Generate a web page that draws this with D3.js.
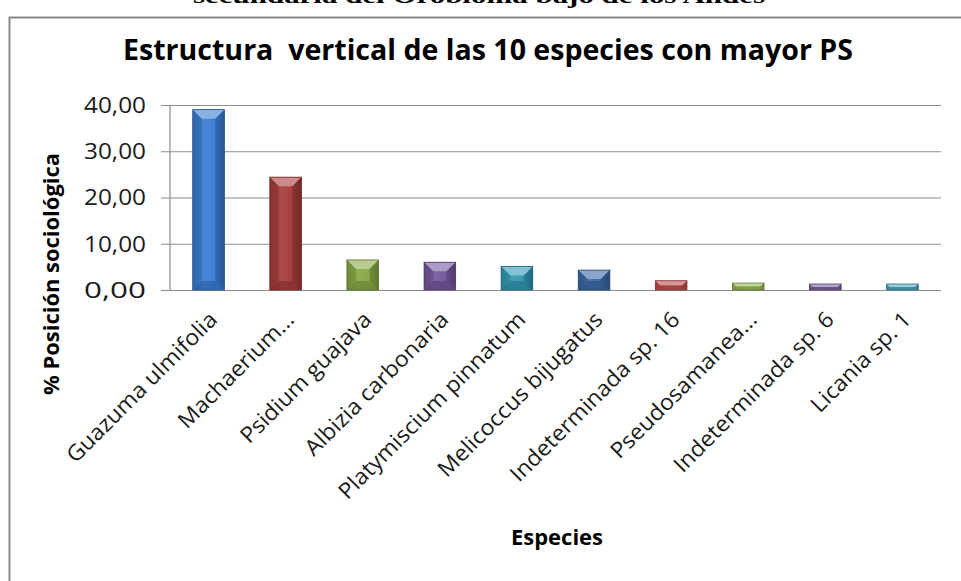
<!DOCTYPE html>
<html><head><meta charset="utf-8">
<script src="https://cdn.jsdelivr.net/npm/d3@7"></script>
<style>body{margin:0;background:#fff}svg{display:block}</style>
</head><body>
<svg id="c" width="961" height="581"></svg>
<script>
const categories = ["Guazuma ulmifolia","Machaerium...","Psidium guajava","Albizia carbonaria","Platymiscium pinnatum","Melicoccus bijugatus","Indeterminada sp. 16","Pseudosamanea...","Indeterminada sp. 6","Licania sp. 1"];
const values = [39.0, 24.4, 6.5, 6.0, 5.1, 4.3, 2.0, 1.5, 1.3, 1.3];
const yTicks = [0, 10, 20, 30, 40];
const tickLabels = ["0,00","10,00","20,00","30,00","40,00"];
const chartTitle = "Estructura\u00a0 vertical de las 10 especies con mayor PS";
const yTitle = "% Posición sociológica";
const xTitle = "Especies";
const pageHeading = "secundaria del Orobioma bajo de los Andes";
const barColors = ["#3b7dd4","#a63d3b","#88aa44","#75599c","#3199b4","#3c6aa6","#c0504d","#9bbb59","#8064a2","#4bacc6"];

const svg = d3.select("#c");
const margin = {left:170, right:941, top:105, bottom:290};
const x = d3.scaleBand().domain(categories).range([margin.left, margin.right]).paddingInner(0.59).paddingOuter(0.295);
const y = d3.scaleLinear().domain([0,40]).range([margin.bottom, margin.top]);

// page heading (cut off at the top, as in the source)
svg.append("text").attr("x",479).attr("y",3).attr("text-anchor","middle")
  .attr("font-family","Liberation Serif").attr("font-weight","bold").attr("font-size",21)
  .attr("textLength",572).attr("lengthAdjust","spacingAndGlyphs").text(pageHeading);

// frame
svg.append("path").attr("d","M9.5,590 V17.5 H970").attr("fill","none").attr("stroke","#8a8a8a").attr("stroke-width",2);

// title
svg.append("text").attr("x",123).attr("y",60).attr("font-family","Open Sans").attr("font-weight","bold")
  .attr("font-size",28).attr("textLength",730).attr("lengthAdjust","spacingAndGlyphs").attr("fill","#000").text(chartTitle);

// gridlines + axis
const yAxis = d3.axisLeft(y).tickValues(yTicks).tickSize(-(margin.right-margin.left)).tickFormat((d,i)=>tickLabels[i]).tickPadding(24);
const ga = svg.append("g").attr("transform",`translate(${margin.left},0)`).call(yAxis);
ga.select(".domain").remove();
ga.selectAll(".tick line").attr("stroke","#8c8c8c").attr("x1",-9).attr("stroke-width",1.2);
ga.selectAll(".tick text").attr("font-family","Open Sans").attr("font-size",21).attr("fill","#1a1a1a")
  .attr("dy","0.35em").attr("textLength",62).attr("lengthAdjust","spacingAndGlyphs");
svg.append("line").attr("x1",margin.left).attr("x2",margin.left).attr("y1",y(40)).attr("y2",y(0)).attr("stroke","#8c8c8c").attr("stroke-width",1.2);

// defs gradients
const defs = svg.append("defs");
function shade(c,k){return k>0?d3.interpolateRgb(c,"#fff")(k):d3.interpolateRgb(c,"#000")(-k);}
barColors.forEach((c,i)=>{
  const g = defs.append("linearGradient").attr("id","g"+i).attr("x1",0).attr("x2",1).attr("y1",0).attr("y2",0);
  g.append("stop").attr("offset",0).attr("stop-color",shade(c,-0.25));
  g.append("stop").attr("offset",0.35).attr("stop-color",shade(c,0.08));
  g.append("stop").attr("offset",0.75).attr("stop-color",c);
  g.append("stop").attr("offset",1).attr("stop-color",shade(c,-0.3));
});

// bars
const bars = svg.append("g").selectAll("g").data(values).join("g");
bars.each(function(v,i){
  const g = d3.select(this);
  const bx = x(categories[i]), bw = x.bandwidth(), by = y(v), bh = y(0)-y(v);
  const c = barColors[i];
  const b = Math.min(9, bw/2, bh/2);
  g.append("rect").attr("x",bx).attr("y",by).attr("width",bw).attr("height",bh).attr("fill",`url(#g${i})`);
  const pts = a=>a.map(p=>p.join(",")).join(" ");
  g.append("polygon").attr("points",pts([[bx,by],[bx+bw,by],[bx+bw-b,by+b],[bx+b,by+b]])).attr("fill",shade(c,0.4));
  g.append("polygon").attr("points",pts([[bx,by+bh],[bx+bw,by+bh],[bx+bw-b,by+bh-b],[bx+b,by+bh-b]])).attr("fill",shade(c,-0.2)).attr("opacity",0.8);
  g.append("polygon").attr("points",pts([[bx,by],[bx+b,by+b],[bx+b,by+bh-b],[bx,by+bh]])).attr("fill",shade(c,-0.15)).attr("opacity",0.6);
  g.append("polygon").attr("points",pts([[bx+bw,by],[bx+bw-b,by+b],[bx+bw-b,by+bh-b],[bx+bw,by+bh]])).attr("fill",shade(c,-0.3)).attr("opacity",0.6);
  g.append("rect").attr("x",bx).attr("y",by).attr("width",bw).attr("height",bh).attr("fill","none").attr("stroke",shade(c,-0.35)).attr("stroke-width",0.8);
});

// x labels
const xl = svg.append("g").selectAll("text").data(categories).join("text")
  .attr("transform",d=>`translate(${x(d)+x.bandwidth()/2+10},321) rotate(-45)`)
  .attr("text-anchor","end").attr("font-family","Open Sans").attr("font-size",22).attr("fill","#1a1a1a").text(d=>d);
xl.each(function(){const L=this.getComputedTextLength();d3.select(this).attr("textLength",L*1.05).attr("lengthAdjust","spacingAndGlyphs");});

// axis titles
svg.append("text").attr("transform","translate(59,274) rotate(-90)").attr("text-anchor","middle")
  .attr("font-family","Open Sans").attr("font-weight","bold").attr("font-size",22)
  .attr("textLength",242).attr("lengthAdjust","spacingAndGlyphs").text(yTitle);
svg.append("text").attr("x",557).attr("y",545).attr("text-anchor","middle")
  .attr("font-family","Open Sans").attr("font-weight","bold").attr("font-size",22)
  .attr("textLength",92).attr("lengthAdjust","spacingAndGlyphs").text(xTitle);
</script>
</body></html>
